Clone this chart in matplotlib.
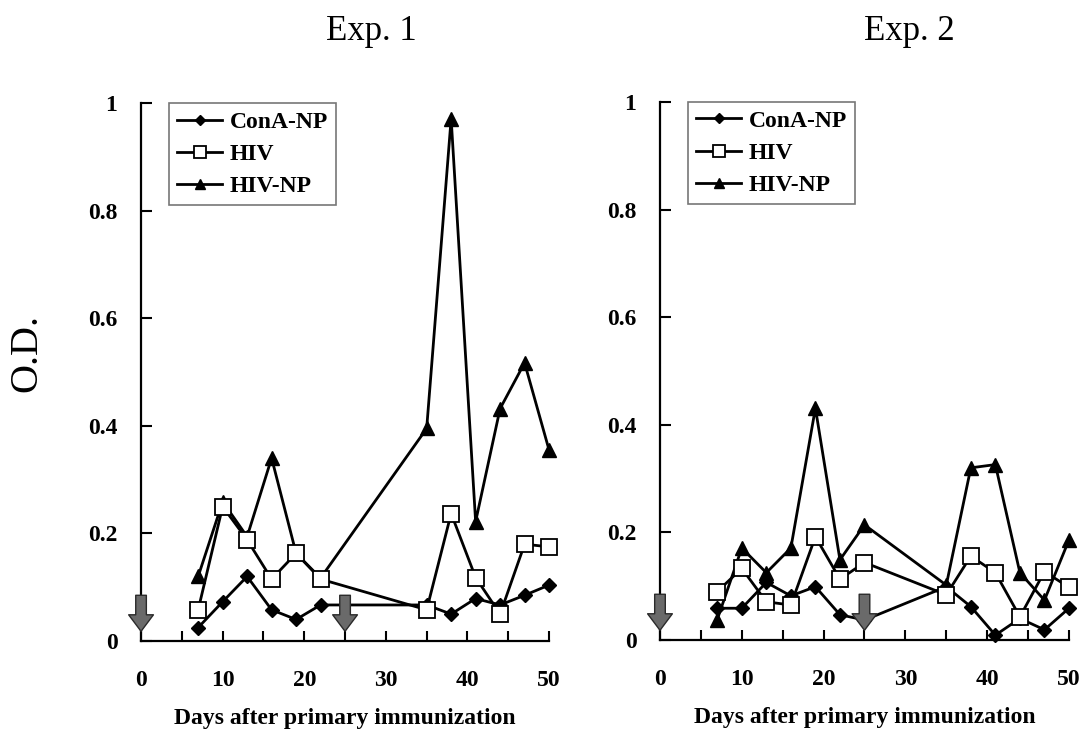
import matplotlib
matplotlib.use('Agg')
import matplotlib.pyplot as plt

plt.rcParams['font.family'] = ['Liberation Serif', 'DejaVu Serif']

# Exp. 1
days_1 = [7, 10, 13, 16, 19, 22, 35, 38, 41, 44, 47, 50]
cona_1 = [0.025, 0.073, 0.12, 0.058, 0.04, 0.067, 0.067, 0.05, 0.079, 0.067, 0.085, 0.104]
hiv_1 = [0.058, 0.25, 0.188, 0.115, 0.163, 0.115, 0.058, 0.237, 0.118, 0.05, 0.18, 0.175]
hivnp_1 = [0.12, 0.259, 0.194, 0.34, 0.163, 0.117, 0.395, 0.971, 0.222, 0.432, 0.517, 0.355]

# Exp. 2
days_2 = [7, 10, 13, 16, 19, 22, 25, 35, 38, 41, 44, 47, 50]
cona_2 = [0.059, 0.059, 0.107, 0.082, 0.099, 0.047, 0.037, 0.099, 0.062, 0.009, 0.04, 0.019, 0.059]
hiv_2 = [0.09, 0.133, 0.071, 0.065, 0.192, 0.113, 0.144, 0.084, 0.156, 0.125, 0.043, 0.127, 0.098]
hivnp_2 = [0.038, 0.171, 0.125, 0.171, 0.431, 0.149, 0.214, 0.102, 0.32, 0.326, 0.125, 0.074, 0.186]

# immunization days (arrows)
boost_days = [0, 25]

titles = ['Exp. 1', 'Exp. 2']
title_x = [0.3435, 0.8417]
yticks = [0, 0.2, 0.4, 0.6, 0.8, 1]
ytick_labels = ['0', '0.2', '0.4', '0.6', '0.8', '1']
xticks = [0, 10, 20, 30, 40, 50]

fig = plt.figure(figsize=(10.8, 7.32), dpi=100)
ax1 = fig.add_axes([0.1306, 0.1243, 0.3778, 0.735])
ax2 = fig.add_axes([0.6111, 0.1257, 0.3787, 0.735])

panels = [
    (ax1, days_1, cona_1, hiv_1, hivnp_1),
    (ax2, days_2, cona_2, hiv_2, hivnp_2),
]

for i, (ax, days, cona, hiv, hivnp) in enumerate(panels):
    ax.plot(days, cona, color='black', lw=2, marker='D', ms=7, mfc='black', mec='black',
            label='ConA-NP', zorder=3, clip_on=False)
    ax.plot(days, hiv, color='black', lw=2, marker='s', ms=11, mfc='white', mec='black', mew=1.3,
            label='HIV', zorder=4, clip_on=False)
    ax.plot(days, hivnp, color='black', lw=2, marker='^', ms=10, mfc='black', mec='black',
            label='HIV-NP', zorder=3, clip_on=False)

    for d in boost_days:
        ax.annotate('', xy=(d, 0.018), xytext=(d, 0.085),
                    arrowprops=dict(arrowstyle='simple,head_length=0.7,head_width=1.05,tail_width=0.45',
                                    fc='#6a6a6a', ec='#2a2a2a', lw=1, shrinkA=0, shrinkB=0,
                                    mutation_scale=17),
                    zorder=5, annotation_clip=False)

    ax.set_xlim(0, 50)
    ax.set_ylim(0, 1)
    ax.spines['top'].set_visible(False)
    ax.spines['right'].set_visible(False)
    ax.spines['left'].set_linewidth(1.6)
    ax.spines['bottom'].set_linewidth(1.6)

    ax.set_xticks(xticks)
    ax.set_xticks([5, 15, 25, 35, 45], minor=True)
    ax.set_yticks(yticks)
    ax.set_yticklabels(ytick_labels)
    ax.tick_params(axis='both', which='both', direction='in', width=1.5, labelsize=17)
    ax.tick_params(axis='x', which='major', length=7, pad=21)
    ax.tick_params(axis='x', which='minor', length=7)
    ax.tick_params(axis='y', length=8, pad=17)
    for lbl in ax.get_xticklabels() + ax.get_yticklabels():
        lbl.set_fontweight('bold')

    ax.set_xlabel('Days after primary immunization', fontsize=17, fontweight='bold', labelpad=12)
    fig.text(title_x[i], 0.957, titles[i], fontsize=25, ha='center', va='center')

    leg = ax.legend(loc='upper left', bbox_to_anchor=(0.069, 1.0), borderaxespad=0,
                    prop={'size': 17, 'weight': 'bold'}, handlelength=1.9, handletextpad=0.3,
                    labelspacing=0.45, borderpad=0.35, fancybox=False, framealpha=1,
                    markerscale=0.75)
    leg.get_frame().set_edgecolor('#777777')
    leg.get_frame().set_linewidth(1.2)

fig.text(0.025, 0.518, 'O.D.', rotation=90, fontsize=29, ha='center', va='center')

fig.savefig('out.png', dpi=100)
